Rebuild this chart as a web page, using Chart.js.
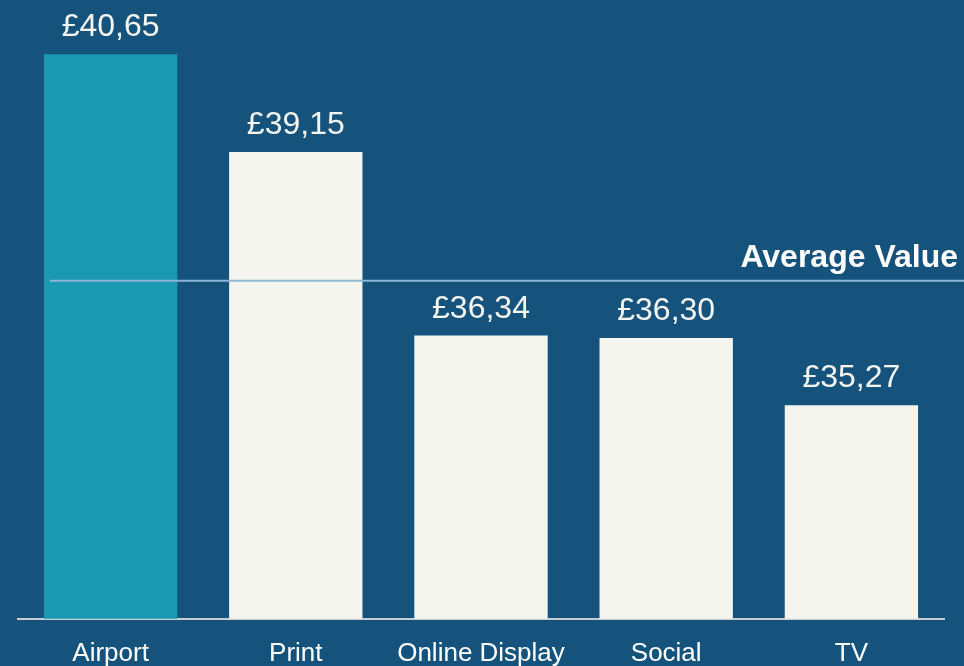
<!DOCTYPE html>
<html lang="en">
<head>
    <meta charset="UTF-8">
    <title>Average Value by Channel</title>
    <script src="https://cdn.jsdelivr.net/npm/chart.js@4.4.0/dist/chart.umd.min.js"></script>
    <style>
        html, body { margin: 0; padding: 0; background: #15537d; }
        .wrap { width: 964px; height: 666px; }
    </style>
</head>
<body>
<div class="wrap">
    <canvas id="myChart" width="964" height="666"></canvas>
</div>

<script>
    const channels = ['Airport', 'Print', 'Online Display', 'Social', 'TV'];
    const values = [40.65, 39.15, 36.34, 36.30, 35.27];
    const barColors = ['#1a9ab2', '#f5f5f0', '#f5f5f0', '#f5f5f0', '#f5f5f0'];
    const averageValue = 37.18;
    const yMin = 32;
    const yMax = 41.48;

    // value labels above each bar, £ with comma decimals
    const valueLabels = {
        id: 'valueLabels',
        afterDatasetsDraw(chart) {
            const ctx = chart.ctx;
            const meta = chart.getDatasetMeta(0);
            ctx.save();
            ctx.font = '32px "Liberation Sans", Arial, sans-serif';
            ctx.fillStyle = '#f5f5f0';
            ctx.textAlign = 'center';
            ctx.textBaseline = 'alphabetic';
            meta.data.forEach((bar, i) => {
                const txt = '£' + values[i].toFixed(2).replace('.', ',');
                ctx.fillText(txt, bar.x, bar.y - 18);
            });
            ctx.restore();
        }
    };

    // average line with its label
    const averageLine = {
        id: 'averageLine',
        afterDatasetsDraw(chart) {
            const ctx = chart.ctx;
            const y = chart.scales.y.getPixelForValue(averageValue);
            ctx.save();
            ctx.strokeStyle = '#8db5d6';
            ctx.lineWidth = 2;
            ctx.beginPath();
            ctx.moveTo(50, y);
            ctx.lineTo(chart.width, y);
            ctx.stroke();
            ctx.font = 'bold 32px "Liberation Sans", Arial, sans-serif';
            ctx.fillStyle = '#ffffff';
            ctx.textAlign = 'right';
            ctx.textBaseline = 'alphabetic';
            ctx.fillText('Average Value', 958, y - 14);
            ctx.restore();
        }
    };

    let myChart = document.getElementById('myChart').getContext('2d');
    let MainChart = new Chart(myChart, {
        type: 'bar',
        data: {
            labels: channels,
            datasets: [{
                data: values,
                backgroundColor: barColors,
                borderWidth: 0,
                categoryPercentage: 1,
                barPercentage: 0.72
            }]
        },
        options: {
            responsive: false,
            animation: false,
            layout: { padding: { left: 18, right: 20, top: 0, bottom: -22 } },
            plugins: {
                legend: { display: false },
                tooltip: { enabled: false }
            },
            scales: {
                x: {
                    grid: { display: false, drawTicks: false },
                    border: { display: true, color: '#c8ced4', width: 2 },
                    ticks: {
                        color: '#ffffff',
                        padding: 19,
                        font: { family: '"Liberation Sans", Arial, sans-serif', size: 26 }
                    }
                },
                y: {
                    display: false,
                    min: yMin,
                    max: yMax
                }
            }
        },
        plugins: [valueLabels, averageLine]
    });
</script>
</body>
</html>
